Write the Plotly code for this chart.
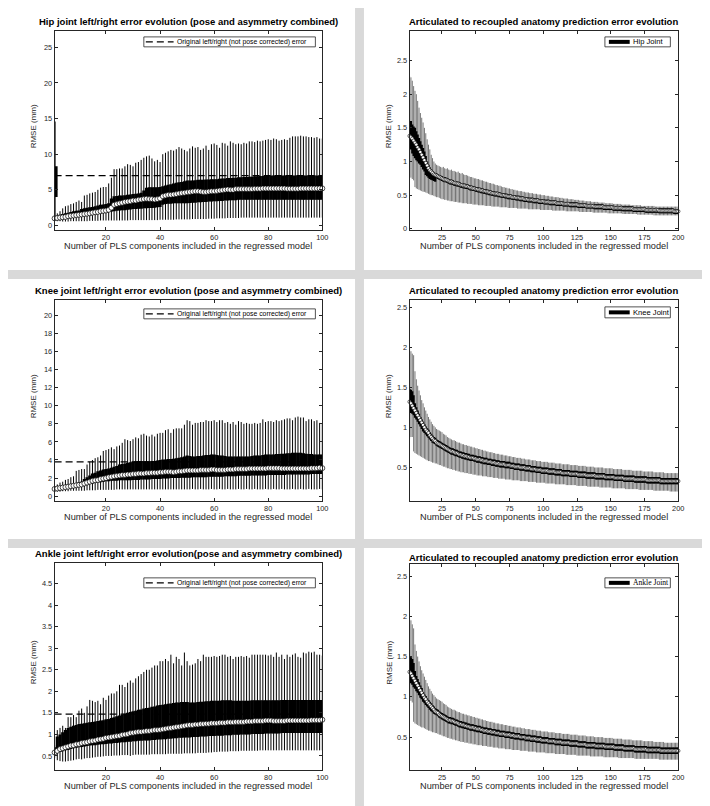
import plotly.graph_objects as go

# ---------------- DATA ----------------
comp100 = list(range(1, 101))
comp200 = list(range(1, 201))

# Hip (left/right asymmetry) boxplot stats per PLS component count
hipL_lo = [0.70,0.60,0.60,0.55,0.55,0.55,0.60,0.60,0.60,0.60,
0.60,0.60,0.60,0.65,0.65,0.65,0.65,0.70,0.70,0.70,
0.70,0.70,0.70,0.70,0.70,0.70,0.70,0.70,0.75,0.75,
0.75,0.75,0.75,0.75,0.75,0.75,0.75,0.75,0.75,0.80,
0.80,0.80,0.80,0.80,0.80,0.85,0.85,0.85,0.85,0.85,
0.85,0.90,0.90,0.90,0.90,0.90,0.90,0.95,0.95,0.95,
1.00,1.00,1.00,1.00,1.05,1.05,1.05,1.05,1.05,1.10,
1.10,1.10,1.10,1.10,1.10,1.10,1.10,1.10,1.10,1.10,
1.10,1.10,1.10,1.10,1.10,1.10,1.10,1.10,1.10,1.10,
1.10,1.10,1.10,1.10,1.10,1.10,1.10,1.10,1.10,1.10]
hipL_q1 = [0.80,0.85,0.90,0.95,1.00,1.05,1.10,1.15,1.20,1.25,
1.30,1.35,1.40,1.45,1.50,1.55,1.60,1.70,1.75,1.85,
1.90,1.95,2.00,2.05,2.10,2.15,2.15,2.20,2.25,2.30,
2.30,2.35,2.35,2.40,2.40,2.45,2.45,2.50,2.55,2.60,
2.90,3.00,3.05,3.05,3.10,3.10,3.10,3.10,3.10,3.10,
3.15,3.20,3.20,3.25,3.25,3.30,3.30,3.35,3.35,3.40,
3.40,3.45,3.45,3.50,3.50,3.55,3.55,3.55,3.60,3.60,
3.60,3.60,3.60,3.60,3.60,3.60,3.60,3.60,3.60,3.60,
3.60,3.60,3.60,3.60,3.60,3.60,3.60,3.60,3.60,3.60,
3.60,3.60,3.60,3.60,3.60,3.60,3.60,3.60,3.60,3.60]
hipL_med = [1.00,1.05,1.10,1.15,1.20,1.30,1.35,1.40,1.45,1.50,
1.55,1.60,1.65,1.70,1.80,1.85,1.90,2.00,2.05,2.10,
2.20,2.50,2.90,3.00,3.10,3.20,3.30,3.35,3.40,3.50,
3.50,3.60,3.65,3.70,3.75,3.70,3.70,3.65,3.70,3.80,
4.10,4.20,4.30,4.30,4.35,4.40,4.50,4.55,4.60,4.65,
4.70,4.75,4.80,4.80,4.75,4.70,4.70,4.75,4.80,4.80,
4.85,4.90,4.95,5.00,5.05,5.00,5.00,5.10,5.10,5.10,
5.10,5.10,5.10,5.10,5.15,5.15,5.15,5.20,5.20,5.20,
5.20,5.20,5.20,5.20,5.20,5.20,5.15,5.15,5.15,5.15,
5.15,5.20,5.20,5.20,5.20,5.20,5.20,5.20,5.20,5.20]
hipL_q3 = [1.20,1.35,1.50,1.60,1.70,1.80,1.90,2.00,2.05,2.10,
2.30,2.40,2.50,2.55,2.60,2.70,2.80,2.90,2.95,3.00,
3.10,3.80,4.10,4.15,4.20,4.20,4.25,4.30,4.35,4.40,
4.45,4.50,4.60,4.90,5.30,5.35,5.35,5.35,5.35,5.40,
5.50,5.60,5.70,5.80,5.90,6.00,6.05,6.10,6.20,6.30,
6.30,6.30,6.35,6.40,6.40,6.40,6.45,6.45,6.50,6.50,
6.50,6.55,6.60,6.60,6.65,6.65,6.70,6.70,6.75,6.75,
6.80,6.80,6.85,6.85,6.90,6.90,6.95,6.95,7.00,7.00,
7.00,7.00,7.00,7.00,7.00,7.00,7.00,7.00,7.00,7.00,
7.00,7.00,7.00,7.00,7.00,7.00,7.00,7.00,7.00,7.00]
hipL_hi = [1.30,1.70,2.00,2.40,2.70,2.80,3.00,3.10,3.30,3.50,
3.30,4.20,4.30,4.50,4.60,4.70,5.00,5.30,5.40,5.40,
5.90,6.70,7.90,7.90,8.00,8.00,8.30,8.60,8.50,8.30,
8.80,8.90,9.20,9.50,9.70,9.80,9.40,9.00,9.20,8.90,
10.00,10.20,10.40,10.60,10.50,10.70,11.00,10.80,10.60,10.40,
10.80,11.10,10.90,11.00,10.60,10.80,11.20,10.60,11.40,11.50,
11.30,10.90,11.60,11.50,11.20,11.80,11.60,11.40,11.50,11.40,
11.60,11.50,11.80,11.80,11.70,11.90,11.80,11.90,12.00,12.10,
12.00,12.20,12.10,11.90,12.00,12.10,12.00,12.30,12.50,12.50,
12.50,12.60,12.50,12.50,12.40,12.40,12.30,12.40,12.20,12.20]
hip_orig_median = 7.0
hip_orig_box = [0.9, 4.0, 8.3, 14.6]   # lo, q1, q3, hi

# Knee
kneeL_lo = [0.55,0.50,0.50,0.55,0.55,0.55,0.60,0.60,0.60,0.60,
0.60,0.60,0.65,0.65,0.65,0.65,0.70,0.70,0.70,0.70,
0.70,0.70,0.70,0.75,0.75,0.75,0.75,0.75,0.75,0.75,
0.75,0.75,0.75,0.75,0.75,0.75,0.75,0.75,0.75,0.75,
0.75,0.75,0.75,0.75,0.75,0.75,0.75,0.75,0.75,0.75,
0.75,0.80,0.75,0.75,0.80,0.75,0.75,0.75,0.80,0.75,
0.75,0.80,0.75,0.75,0.80,0.75,0.75,0.75,0.80,0.75,
0.75,0.80,0.75,0.75,0.80,0.75,0.75,0.75,0.80,0.75,
0.75,0.80,0.75,0.75,0.80,0.75,0.75,0.75,0.80,0.75,
0.75,0.80,0.75,0.75,0.80,0.75,0.75,0.75,0.80,0.75]
kneeL_q1 = [0.70,0.75,0.80,0.85,0.90,0.95,1.00,1.05,1.10,1.15,
1.20,1.25,1.30,1.35,1.40,1.45,1.50,1.55,1.60,1.65,
1.65,1.70,1.70,1.70,1.75,1.75,1.75,1.75,1.75,1.80,
1.80,1.80,1.85,1.85,1.85,1.85,1.90,1.90,1.90,1.90,
1.95,1.95,1.95,2.00,2.00,2.00,2.00,2.05,2.05,2.05,
2.05,2.10,2.10,2.10,2.10,2.10,2.10,2.15,2.15,2.15,
2.15,2.15,2.15,2.20,2.20,2.20,2.20,2.20,2.25,2.25,
2.25,2.25,2.25,2.30,2.30,2.30,2.30,2.30,2.30,2.35,
2.35,2.35,2.35,2.35,2.35,2.35,2.40,2.40,2.40,2.40,
2.40,2.40,2.40,2.40,2.40,2.45,2.45,2.45,2.45,2.45]
kneeL_med = [0.80,0.85,0.90,0.95,1.00,1.05,1.10,1.15,1.20,1.25,
1.30,1.40,1.50,1.60,1.70,1.75,1.80,1.90,1.95,2.00,
2.10,2.15,2.20,2.25,2.30,2.35,2.35,2.40,2.40,2.45,
2.45,2.50,2.50,2.50,2.55,2.55,2.60,2.60,2.60,2.65,
2.65,2.70,2.70,2.70,2.65,2.70,2.75,2.75,2.80,2.85,
2.85,2.85,2.85,2.85,2.90,2.90,2.90,2.90,2.95,2.95,
2.90,2.90,2.90,2.90,2.95,2.95,2.95,3.00,3.00,3.00,
3.00,3.00,3.05,3.05,3.05,3.05,3.05,3.05,3.05,3.10,
3.10,3.10,3.10,3.10,3.05,3.05,3.05,3.05,3.05,3.05,
3.05,3.05,3.05,3.05,3.05,3.10,3.10,3.10,3.15,3.10]
kneeL_q3 = [0.90,0.95,1.00,1.10,1.15,1.20,1.30,1.35,1.40,1.50,
1.60,1.90,2.10,2.30,2.50,2.60,2.75,2.85,2.95,3.00,
3.05,3.15,3.25,3.35,3.50,3.55,3.60,3.70,3.75,3.80,
3.85,3.90,3.90,3.85,3.85,3.85,3.90,3.90,3.95,4.00,
4.05,4.05,4.10,4.10,4.15,4.20,4.25,4.30,4.40,4.50,
4.45,4.40,4.40,4.45,4.45,4.50,4.55,4.55,4.60,4.60,
4.55,4.50,4.50,4.45,4.40,4.40,4.40,4.40,4.40,4.40,
4.40,4.40,4.40,4.45,4.50,4.50,4.50,4.55,4.60,4.60,
4.60,4.60,4.65,4.65,4.70,4.70,4.75,4.75,4.80,4.80,
4.80,4.80,4.75,4.70,4.65,4.65,4.60,4.60,4.60,4.60]
kneeL_hi = [1.00,1.30,1.50,1.60,1.80,1.90,2.10,2.20,2.80,2.90,
3.00,3.00,3.50,3.80,4.00,4.20,4.30,4.50,5.00,5.10,
5.20,5.40,5.20,5.50,5.60,5.90,6.30,6.20,6.10,6.30,
6.50,6.40,6.80,6.90,6.70,6.60,6.80,6.60,6.90,7.00,
7.00,7.30,7.40,7.00,7.40,7.50,7.50,7.50,7.90,8.40,
8.30,7.90,8.10,8.10,8.20,8.20,8.40,8.30,8.30,8.40,
8.20,8.40,8.40,8.10,8.20,8.00,8.20,7.90,8.30,8.20,
8.00,8.10,8.00,8.00,8.10,8.00,8.10,8.50,8.20,8.30,
8.30,8.20,8.40,8.30,8.40,8.50,8.60,8.60,8.40,8.70,
8.80,8.70,8.70,8.30,8.50,8.50,8.30,8.40,8.10,8.00]
knee_orig_median = 3.8

# Ankle
ankL_lo = [0.45,0.40,0.38,0.37,0.37,0.38,0.39,0.40,0.42,0.43,
0.42,0.44,0.45,0.45,0.46,0.47,0.48,0.48,0.49,0.50,
0.50,0.50,0.51,0.51,0.51,0.52,0.52,0.52,0.50,0.52,
0.53,0.53,0.53,0.53,0.53,0.53,0.54,0.54,0.54,0.54,
0.54,0.54,0.55,0.55,0.55,0.55,0.55,0.55,0.56,0.56,
0.56,0.56,0.56,0.57,0.57,0.57,0.57,0.58,0.58,0.59,
0.59,0.60,0.60,0.60,0.60,0.61,0.61,0.61,0.61,0.62,
0.62,0.62,0.62,0.62,0.62,0.62,0.63,0.63,0.63,0.63,
0.63,0.63,0.63,0.63,0.63,0.63,0.63,0.63,0.63,0.63,
0.63,0.63,0.63,0.63,0.63,0.63,0.63,0.63,0.63,0.63]
ankL_q1 = [0.55,0.57,0.59,0.61,0.63,0.64,0.66,0.68,0.69,0.70,
0.71,0.72,0.73,0.74,0.75,0.75,0.76,0.77,0.77,0.78,
0.79,0.79,0.80,0.80,0.81,0.82,0.82,0.83,0.83,0.84,
0.84,0.85,0.85,0.86,0.86,0.86,0.87,0.87,0.88,0.88,
0.89,0.89,0.90,0.90,0.91,0.91,0.92,0.92,0.93,0.93,
0.93,0.94,0.94,0.94,0.95,0.95,0.95,0.96,0.96,0.96,
0.97,0.97,0.97,0.98,0.98,0.98,0.99,0.99,0.99,1.00,
1.00,1.00,1.00,1.01,1.01,1.01,1.01,1.01,1.02,1.02,
1.02,1.02,1.02,1.02,1.03,1.03,1.03,1.03,1.03,1.03,
1.03,1.03,1.03,1.03,1.03,1.03,1.03,1.03,1.03,1.03]
ankL_med = [0.58,0.62,0.66,0.68,0.70,0.72,0.74,0.75,0.77,0.78,
0.80,0.81,0.82,0.84,0.85,0.86,0.88,0.89,0.90,0.92,
0.93,0.94,0.95,0.96,0.97,0.99,1.00,1.01,1.03,1.04,
1.05,1.06,1.06,1.07,1.08,1.08,1.09,1.10,1.10,1.11,
1.12,1.13,1.14,1.15,1.16,1.17,1.18,1.19,1.20,1.21,
1.22,1.22,1.23,1.23,1.24,1.24,1.25,1.25,1.26,1.26,
1.26,1.27,1.27,1.27,1.28,1.28,1.28,1.29,1.29,1.29,
1.29,1.30,1.30,1.30,1.31,1.31,1.31,1.31,1.32,1.32,
1.32,1.31,1.31,1.31,1.31,1.31,1.32,1.32,1.32,1.32,
1.32,1.32,1.32,1.32,1.32,1.33,1.33,1.33,1.33,1.34]
ankL_q3 = [0.70,0.95,1.00,1.05,1.10,1.15,1.18,1.20,1.22,1.24,
1.25,1.26,1.27,1.28,1.29,1.30,1.31,1.32,1.33,1.35,
1.36,1.38,1.40,1.42,1.44,1.46,1.48,1.50,1.52,1.54,
1.55,1.57,1.58,1.60,1.61,1.62,1.64,1.65,1.67,1.68,
1.69,1.70,1.71,1.72,1.73,1.74,1.74,1.75,1.75,1.75,
1.74,1.74,1.74,1.75,1.76,1.76,1.77,1.77,1.78,1.78,
1.78,1.78,1.79,1.79,1.79,1.79,1.78,1.78,1.78,1.78,
1.78,1.78,1.78,1.79,1.79,1.79,1.79,1.79,1.79,1.79,
1.79,1.79,1.79,1.79,1.80,1.80,1.80,1.80,1.80,1.80,
1.80,1.80,1.80,1.80,1.80,1.80,1.80,1.80,1.80,1.80]
ankL_hi = [0.75,1.10,1.15,1.20,1.15,1.40,1.40,1.45,1.40,1.55,
1.60,1.50,1.65,1.80,1.78,1.75,1.78,1.70,1.85,1.80,
1.90,1.95,1.95,2.00,2.15,2.15,2.10,2.20,2.25,2.20,
2.30,2.35,2.40,2.45,2.50,2.50,2.55,2.60,2.60,2.70,
2.70,2.75,2.70,2.85,2.65,2.80,2.75,2.60,2.90,2.70,
2.60,2.62,2.65,2.75,2.70,2.85,2.80,2.80,2.80,2.82,
2.80,2.82,2.85,2.85,2.80,2.82,2.75,2.80,2.80,2.82,
2.80,2.82,2.78,2.85,2.85,2.85,2.85,2.85,2.85,2.83,
2.85,2.80,2.90,2.80,2.85,2.75,2.85,2.80,2.85,2.88,
2.80,2.78,2.90,2.88,2.92,2.90,2.92,2.85,2.85,2.83]
ankle_orig_median = 1.47

# Articulated -> recoupled prediction error (200 components)
hipR_lo = [0.76,0.76,0.74,0.72,0.62,0.60,0.59,0.58,0.57,0.56,
0.55,0.55,0.54,0.53,0.52,0.51,0.50,0.50,0.49,0.48,
0.47,0.47,0.46,0.45,0.44,0.44,0.43,0.43,0.42,0.42,
0.41,0.41,0.41,0.40,0.40,0.40,0.39,0.39,0.39,0.38,
0.38,0.38,0.38,0.37,0.37,0.37,0.37,0.36,0.36,0.36,
0.36,0.35,0.35,0.35,0.35,0.35,0.34,0.34,0.34,0.34,
0.34,0.33,0.33,0.33,0.33,0.33,0.33,0.32,0.32,0.32,
0.32,0.32,0.32,0.31,0.31,0.31,0.31,0.31,0.31,0.31,
0.30,0.30,0.30,0.30,0.30,0.30,0.30,0.30,0.29,0.29,
0.29,0.29,0.29,0.29,0.29,0.29,0.29,0.28,0.28,0.28,
0.28,0.28,0.28,0.28,0.28,0.28,0.27,0.27,0.27,0.27,
0.27,0.27,0.27,0.27,0.27,0.27,0.26,0.26,0.26,0.26,
0.26,0.26,0.26,0.26,0.26,0.26,0.25,0.25,0.25,0.25,
0.25,0.25,0.25,0.25,0.25,0.25,0.24,0.24,0.24,0.24,
0.24,0.24,0.24,0.24,0.24,0.24,0.24,0.23,0.23,0.23,
0.23,0.23,0.23,0.23,0.23,0.23,0.23,0.23,0.22,0.22,
0.22,0.22,0.22,0.22,0.22,0.22,0.22,0.22,0.22,0.21,
0.21,0.21,0.21,0.21,0.21,0.21,0.21,0.21,0.21,0.21,
0.21,0.20,0.20,0.20,0.20,0.20,0.20,0.20,0.20,0.20,
0.20,0.20,0.20,0.20,0.20,0.20,0.20,0.20,0.20,0.20]
hipR_q1 = [1.20,1.18,1.12,1.08,1.05,1.02,1.00,0.97,0.95,0.92,
0.88,0.85,0.80,0.78,0.76,0.74,0.73,0.72,0.71,0.70,
0.75,0.74,0.73,0.72,0.71,0.70,0.69,0.69,0.68,0.67,
0.66,0.66,0.65,0.64,0.64,0.63,0.63,0.62,0.61,0.61,
0.60,0.60,0.59,0.59,0.58,0.57,0.57,0.56,0.56,0.55,
0.55,0.54,0.54,0.53,0.53,0.52,0.52,0.51,0.51,0.50,
0.50,0.49,0.49,0.48,0.48,0.48,0.47,0.47,0.46,0.46,
0.46,0.45,0.45,0.44,0.44,0.44,0.43,0.43,0.43,0.42,
0.42,0.42,0.41,0.41,0.41,0.40,0.40,0.40,0.39,0.39,
0.39,0.39,0.38,0.38,0.38,0.38,0.37,0.37,0.37,0.37,
0.36,0.36,0.36,0.36,0.35,0.35,0.35,0.35,0.35,0.34,
0.34,0.34,0.34,0.34,0.33,0.33,0.33,0.33,0.33,0.32,
0.32,0.32,0.32,0.32,0.32,0.31,0.31,0.31,0.31,0.31,
0.31,0.30,0.30,0.30,0.30,0.30,0.30,0.29,0.29,0.29,
0.29,0.29,0.29,0.29,0.28,0.28,0.28,0.28,0.28,0.28,
0.28,0.27,0.27,0.27,0.27,0.27,0.27,0.27,0.26,0.26,
0.26,0.26,0.26,0.26,0.26,0.26,0.25,0.25,0.25,0.25,
0.25,0.25,0.25,0.25,0.25,0.24,0.24,0.24,0.24,0.24,
0.24,0.24,0.24,0.24,0.24,0.23,0.23,0.23,0.23,0.23,
0.23,0.23,0.23,0.23,0.23,0.23,0.22,0.22,0.22,0.22]
hipR_med = [1.38,1.36,1.34,1.31,1.28,1.25,1.21,1.18,1.14,1.10,
1.06,1.02,0.98,0.94,0.90,0.87,0.85,0.83,0.81,0.80,
0.79,0.78,0.77,0.76,0.75,0.74,0.73,0.73,0.72,0.71,
0.70,0.70,0.69,0.68,0.68,0.67,0.67,0.66,0.65,0.65,
0.64,0.64,0.63,0.63,0.62,0.61,0.61,0.60,0.60,0.59,
0.59,0.58,0.58,0.57,0.57,0.56,0.56,0.55,0.55,0.54,
0.54,0.53,0.53,0.52,0.52,0.52,0.51,0.51,0.50,0.50,
0.50,0.49,0.49,0.48,0.48,0.48,0.47,0.47,0.47,0.46,
0.46,0.46,0.45,0.45,0.45,0.44,0.44,0.44,0.43,0.43,
0.43,0.43,0.42,0.42,0.42,0.42,0.41,0.41,0.41,0.41,
0.40,0.40,0.40,0.40,0.39,0.39,0.39,0.39,0.39,0.38,
0.38,0.38,0.38,0.38,0.37,0.37,0.37,0.37,0.37,0.36,
0.36,0.36,0.36,0.36,0.36,0.35,0.35,0.35,0.35,0.35,
0.35,0.34,0.34,0.34,0.34,0.34,0.34,0.33,0.33,0.33,
0.33,0.33,0.33,0.33,0.32,0.32,0.32,0.32,0.32,0.32,
0.32,0.31,0.31,0.31,0.31,0.31,0.31,0.31,0.30,0.30,
0.30,0.30,0.30,0.30,0.30,0.30,0.29,0.29,0.29,0.29,
0.29,0.29,0.29,0.29,0.29,0.28,0.28,0.28,0.28,0.28,
0.28,0.28,0.28,0.28,0.28,0.27,0.27,0.27,0.27,0.27,
0.27,0.27,0.27,0.27,0.27,0.27,0.26,0.26,0.26,0.26]
hipR_q3 = [1.60,1.60,1.55,1.52,1.50,1.45,1.40,1.35,1.30,1.25,
1.20,1.15,1.08,1.00,0.95,0.91,0.88,0.86,0.84,0.83,
0.82,0.81,0.80,0.79,0.78,0.77,0.77,0.76,0.75,0.74,
0.73,0.73,0.72,0.71,0.71,0.70,0.70,0.69,0.68,0.68,
0.67,0.67,0.66,0.66,0.65,0.64,0.64,0.63,0.63,0.62,
0.62,0.61,0.61,0.60,0.60,0.59,0.59,0.58,0.58,0.57,
0.57,0.56,0.56,0.55,0.55,0.55,0.54,0.54,0.53,0.53,
0.53,0.52,0.52,0.51,0.51,0.51,0.50,0.50,0.50,0.49,
0.49,0.49,0.48,0.48,0.48,0.47,0.47,0.47,0.46,0.46,
0.46,0.46,0.45,0.45,0.45,0.45,0.44,0.44,0.44,0.44,
0.43,0.43,0.43,0.43,0.42,0.42,0.42,0.42,0.42,0.41,
0.41,0.41,0.41,0.41,0.40,0.40,0.40,0.40,0.40,0.39,
0.39,0.39,0.39,0.39,0.39,0.38,0.38,0.38,0.38,0.38,
0.38,0.37,0.37,0.37,0.37,0.37,0.37,0.36,0.36,0.36,
0.36,0.36,0.36,0.36,0.35,0.35,0.35,0.35,0.35,0.35,
0.35,0.34,0.34,0.34,0.34,0.34,0.34,0.34,0.33,0.33,
0.33,0.33,0.33,0.33,0.33,0.33,0.32,0.32,0.32,0.32,
0.32,0.32,0.32,0.32,0.32,0.31,0.31,0.31,0.31,0.31,
0.31,0.31,0.31,0.31,0.31,0.30,0.30,0.30,0.30,0.30,
0.30,0.30,0.30,0.30,0.30,0.30,0.29,0.29,0.29,0.29]
hipR_hi = [2.27,2.25,2.20,2.12,2.05,2.00,1.90,1.80,1.72,1.65,
1.58,1.50,1.42,1.33,1.25,1.18,1.10,1.05,1.00,0.97,
0.95,0.94,0.93,0.92,0.91,0.92,0.90,0.89,0.90,0.88,
0.87,0.88,0.86,0.86,0.85,0.84,0.85,0.83,0.82,0.83,
0.81,0.80,0.80,0.79,0.78,0.77,0.77,0.76,0.75,0.75,
0.74,0.74,0.73,0.72,0.72,0.71,0.70,0.70,0.69,0.68,
0.68,0.67,0.67,0.66,0.65,0.65,0.64,0.64,0.63,0.62,
0.62,0.61,0.61,0.60,0.60,0.59,0.59,0.58,0.58,0.57,
0.57,0.56,0.56,0.56,0.55,0.55,0.54,0.54,0.54,0.53,
0.53,0.53,0.52,0.52,0.52,0.51,0.51,0.51,0.50,0.50,
0.50,0.49,0.49,0.49,0.48,0.48,0.48,0.47,0.47,0.47,
0.47,0.46,0.46,0.46,0.45,0.45,0.45,0.45,0.44,0.44,
0.44,0.44,0.43,0.43,0.43,0.43,0.42,0.42,0.42,0.42,
0.41,0.41,0.41,0.41,0.41,0.40,0.40,0.40,0.40,0.40,
0.39,0.39,0.39,0.39,0.39,0.38,0.38,0.38,0.38,0.38,
0.38,0.37,0.37,0.37,0.37,0.37,0.37,0.36,0.36,0.36,
0.36,0.36,0.36,0.36,0.35,0.35,0.35,0.35,0.35,0.35,
0.35,0.35,0.34,0.34,0.34,0.34,0.34,0.34,0.34,0.34,
0.34,0.34,0.33,0.33,0.33,0.33,0.33,0.33,0.33,0.33,
0.33,0.33,0.33,0.33,0.33,0.33,0.33,0.33,0.33,0.33]

kneeR_lo = [0.86,0.88,0.88,0.70,0.68,0.67,0.66,0.65,0.64,0.63,
0.62,0.61,0.60,0.59,0.58,0.58,0.57,0.56,0.56,0.55,
0.55,0.54,0.53,0.53,0.52,0.51,0.51,0.50,0.49,0.49,
0.48,0.48,0.47,0.47,0.46,0.46,0.45,0.45,0.44,0.44,
0.44,0.43,0.43,0.43,0.42,0.42,0.42,0.41,0.41,0.41,
0.40,0.40,0.40,0.40,0.39,0.39,0.39,0.39,0.38,0.38,
0.38,0.38,0.37,0.37,0.37,0.37,0.36,0.36,0.36,0.36,
0.36,0.35,0.35,0.35,0.35,0.35,0.34,0.34,0.34,0.34,
0.34,0.34,0.33,0.33,0.33,0.33,0.33,0.33,0.32,0.32,
0.32,0.32,0.32,0.32,0.31,0.31,0.31,0.31,0.31,0.31,
0.31,0.30,0.30,0.30,0.30,0.30,0.30,0.30,0.29,0.29,
0.29,0.29,0.29,0.29,0.29,0.29,0.28,0.28,0.28,0.28,
0.28,0.28,0.28,0.28,0.27,0.27,0.27,0.27,0.27,0.27,
0.27,0.27,0.26,0.26,0.26,0.26,0.26,0.26,0.26,0.26,
0.26,0.25,0.25,0.25,0.25,0.25,0.25,0.25,0.25,0.25,
0.24,0.24,0.24,0.24,0.24,0.24,0.24,0.24,0.24,0.24,
0.23,0.23,0.23,0.23,0.23,0.23,0.23,0.23,0.23,0.23,
0.22,0.22,0.22,0.22,0.22,0.22,0.22,0.22,0.22,0.22,
0.22,0.21,0.21,0.21,0.21,0.21,0.21,0.21,0.21,0.21,
0.21,0.21,0.21,0.20,0.20,0.20,0.20,0.20,0.20,0.20]
kneeR_q1 = [1.20,1.18,1.17,1.15,1.12,1.10,1.07,1.04,1.01,0.98,
0.95,0.93,0.91,0.89,0.87,0.85,0.83,0.81,0.80,0.79,
0.77,0.76,0.75,0.74,0.73,0.72,0.71,0.70,0.69,0.68,
0.67,0.66,0.66,0.65,0.64,0.64,0.63,0.62,0.62,0.61,
0.61,0.60,0.60,0.59,0.59,0.58,0.58,0.58,0.57,0.57,
0.56,0.56,0.56,0.55,0.55,0.54,0.54,0.54,0.53,0.53,
0.53,0.52,0.52,0.52,0.51,0.51,0.51,0.50,0.50,0.50,
0.50,0.49,0.49,0.49,0.49,0.48,0.48,0.48,0.47,0.47,
0.47,0.47,0.46,0.46,0.46,0.46,0.45,0.45,0.45,0.45,
0.44,0.44,0.44,0.44,0.43,0.43,0.43,0.43,0.42,0.42,
0.42,0.42,0.42,0.41,0.41,0.41,0.41,0.41,0.40,0.40,
0.40,0.40,0.40,0.39,0.39,0.39,0.39,0.39,0.39,0.38,
0.38,0.38,0.38,0.38,0.38,0.37,0.37,0.37,0.37,0.37,
0.37,0.36,0.36,0.36,0.36,0.36,0.36,0.36,0.35,0.35,
0.35,0.35,0.35,0.35,0.35,0.34,0.34,0.34,0.34,0.34,
0.34,0.34,0.33,0.33,0.33,0.33,0.33,0.33,0.33,0.32,
0.32,0.32,0.32,0.32,0.32,0.32,0.32,0.31,0.31,0.31,
0.31,0.31,0.31,0.31,0.31,0.31,0.30,0.30,0.30,0.30,
0.30,0.30,0.30,0.30,0.30,0.30,0.29,0.29,0.29,0.29,
0.29,0.29,0.29,0.29,0.29,0.29,0.29,0.29,0.29,0.29]
kneeR_med = [1.32,1.30,1.27,1.24,1.21,1.18,1.15,1.12,1.09,1.06,
1.03,1.00,0.97,0.95,0.93,0.90,0.88,0.86,0.84,0.83,
0.81,0.80,0.79,0.78,0.77,0.76,0.75,0.74,0.73,0.72,
0.71,0.70,0.70,0.69,0.68,0.68,0.67,0.66,0.66,0.65,
0.65,0.64,0.64,0.63,0.63,0.62,0.62,0.62,0.61,0.61,
0.60,0.60,0.60,0.59,0.59,0.58,0.58,0.58,0.57,0.57,
0.57,0.56,0.56,0.56,0.55,0.55,0.55,0.54,0.54,0.54,
0.54,0.53,0.53,0.53,0.53,0.52,0.52,0.52,0.51,0.51,
0.51,0.51,0.50,0.50,0.50,0.50,0.49,0.49,0.49,0.49,
0.48,0.48,0.48,0.48,0.47,0.47,0.47,0.47,0.46,0.46,
0.46,0.46,0.46,0.45,0.45,0.45,0.45,0.45,0.44,0.44,
0.44,0.44,0.44,0.43,0.43,0.43,0.43,0.43,0.43,0.42,
0.42,0.42,0.42,0.42,0.42,0.41,0.41,0.41,0.41,0.41,
0.41,0.40,0.40,0.40,0.40,0.40,0.40,0.40,0.39,0.39,
0.39,0.39,0.39,0.39,0.39,0.38,0.38,0.38,0.38,0.38,
0.38,0.38,0.37,0.37,0.37,0.37,0.37,0.37,0.37,0.36,
0.36,0.36,0.36,0.36,0.36,0.36,0.36,0.35,0.35,0.35,
0.35,0.35,0.35,0.35,0.35,0.35,0.34,0.34,0.34,0.34,
0.34,0.34,0.34,0.34,0.34,0.34,0.33,0.33,0.33,0.33,
0.33,0.33,0.33,0.33,0.33,0.33,0.33,0.33,0.33,0.33]
kneeR_q3 = [1.48,1.47,1.45,1.40,1.30,1.25,1.21,1.17,1.13,1.10,
1.07,1.04,1.01,0.99,0.97,0.94,0.92,0.90,0.88,0.87,
0.85,0.84,0.83,0.82,0.81,0.80,0.79,0.78,0.77,0.76,
0.75,0.74,0.74,0.73,0.72,0.72,0.71,0.70,0.70,0.69,
0.69,0.68,0.68,0.67,0.67,0.66,0.66,0.66,0.65,0.65,
0.64,0.64,0.64,0.63,0.63,0.62,0.62,0.62,0.61,0.61,
0.61,0.60,0.60,0.60,0.59,0.59,0.59,0.58,0.58,0.58,
0.58,0.57,0.57,0.57,0.57,0.56,0.56,0.56,0.55,0.55,
0.55,0.55,0.54,0.54,0.54,0.54,0.53,0.53,0.53,0.53,
0.52,0.52,0.52,0.52,0.51,0.51,0.51,0.51,0.50,0.50,
0.50,0.50,0.50,0.49,0.49,0.49,0.49,0.49,0.48,0.48,
0.48,0.48,0.48,0.47,0.47,0.47,0.47,0.47,0.47,0.46,
0.46,0.46,0.46,0.46,0.46,0.45,0.45,0.45,0.45,0.45,
0.45,0.44,0.44,0.44,0.44,0.44,0.44,0.44,0.43,0.43,
0.43,0.43,0.43,0.43,0.43,0.42,0.42,0.42,0.42,0.42,
0.42,0.42,0.41,0.41,0.41,0.41,0.41,0.41,0.41,0.40,
0.40,0.40,0.40,0.40,0.40,0.40,0.40,0.39,0.39,0.39,
0.39,0.39,0.39,0.39,0.39,0.39,0.38,0.38,0.38,0.38,
0.38,0.38,0.38,0.38,0.38,0.38,0.37,0.37,0.37,0.37,
0.37,0.37,0.37,0.37,0.37,0.37,0.37,0.37,0.37,0.37]
kneeR_hi = [1.98,1.95,1.92,1.90,1.70,1.60,1.52,1.46,1.40,1.34,
1.30,1.25,1.21,1.17,1.13,1.10,1.07,1.04,1.02,1.00,
0.98,0.97,0.96,0.95,0.94,0.92,0.91,0.90,0.88,0.87,
0.86,0.85,0.84,0.84,0.83,0.82,0.81,0.81,0.80,0.79,
0.79,0.78,0.78,0.77,0.77,0.76,0.76,0.75,0.75,0.74,
0.74,0.73,0.73,0.72,0.72,0.71,0.71,0.70,0.70,0.69,
0.69,0.69,0.68,0.68,0.67,0.67,0.67,0.66,0.66,0.66,
0.65,0.65,0.65,0.64,0.64,0.64,0.63,0.63,0.63,0.62,
0.62,0.62,0.62,0.61,0.61,0.61,0.60,0.60,0.60,0.60,
0.59,0.59,0.59,0.59,0.58,0.58,0.58,0.58,0.57,0.57,
0.57,0.57,0.57,0.56,0.56,0.56,0.56,0.56,0.55,0.55,
0.55,0.55,0.55,0.54,0.54,0.54,0.54,0.54,0.54,0.53,
0.53,0.53,0.53,0.53,0.53,0.52,0.52,0.52,0.52,0.52,
0.52,0.51,0.51,0.51,0.51,0.51,0.51,0.50,0.50,0.50,
0.50,0.50,0.50,0.50,0.49,0.49,0.49,0.49,0.49,0.49,
0.49,0.48,0.48,0.48,0.48,0.48,0.48,0.48,0.47,0.47,
0.47,0.47,0.47,0.47,0.47,0.46,0.46,0.46,0.46,0.46,
0.46,0.46,0.46,0.45,0.45,0.45,0.45,0.45,0.45,0.45,
0.45,0.44,0.44,0.44,0.44,0.44,0.44,0.44,0.44,0.43,
0.43,0.43,0.43,0.43,0.43,0.43,0.43,0.43,0.43,0.43]

ankR_lo = [0.97,0.95,0.93,0.69,0.67,0.66,0.65,0.64,0.63,0.62,
0.62,0.61,0.60,0.59,0.58,0.58,0.57,0.56,0.56,0.55,
0.55,0.54,0.53,0.53,0.52,0.51,0.51,0.50,0.49,0.49,
0.48,0.48,0.47,0.47,0.46,0.46,0.45,0.45,0.44,0.44,
0.44,0.43,0.43,0.43,0.42,0.42,0.42,0.41,0.41,0.41,
0.40,0.40,0.40,0.40,0.39,0.39,0.39,0.39,0.38,0.38,
0.38,0.38,0.37,0.37,0.37,0.37,0.36,0.36,0.36,0.36,
0.36,0.35,0.35,0.35,0.35,0.35,0.34,0.34,0.34,0.34,
0.34,0.34,0.33,0.33,0.33,0.33,0.33,0.33,0.32,0.32,
0.32,0.32,0.32,0.32,0.31,0.31,0.31,0.31,0.31,0.31,
0.31,0.30,0.30,0.30,0.30,0.30,0.30,0.30,0.29,0.29,
0.29,0.29,0.29,0.29,0.29,0.29,0.28,0.28,0.28,0.28,
0.28,0.28,0.28,0.28,0.27,0.27,0.27,0.27,0.27,0.27,
0.27,0.27,0.27,0.27,0.26,0.26,0.26,0.26,0.26,0.26,
0.26,0.26,0.26,0.26,0.25,0.25,0.25,0.25,0.25,0.25,
0.25,0.25,0.25,0.25,0.25,0.24,0.24,0.24,0.24,0.24,
0.24,0.24,0.24,0.24,0.24,0.24,0.24,0.23,0.23,0.23,
0.23,0.23,0.23,0.23,0.23,0.23,0.23,0.23,0.23,0.23,
0.23,0.23,0.23,0.23,0.23,0.22,0.22,0.22,0.22,0.22,
0.22,0.22,0.22,0.22,0.22,0.22,0.22,0.22,0.22,0.22]
ankR_q1 = [1.18,1.17,1.15,1.12,1.10,1.07,1.05,1.02,0.99,0.97,
0.94,0.92,0.90,0.88,0.86,0.84,0.82,0.81,0.79,0.78,
0.77,0.76,0.74,0.73,0.72,0.71,0.70,0.69,0.68,0.67,
0.67,0.66,0.66,0.65,0.64,0.64,0.63,0.62,0.62,0.61,
0.61,0.60,0.60,0.59,0.59,0.58,0.58,0.58,0.57,0.57,
0.56,0.56,0.56,0.55,0.55,0.54,0.54,0.54,0.53,0.53,
0.53,0.52,0.52,0.52,0.51,0.51,0.51,0.50,0.50,0.50,
0.50,0.49,0.49,0.49,0.49,0.48,0.48,0.48,0.47,0.47,
0.47,0.47,0.46,0.46,0.46,0.46,0.45,0.45,0.45,0.45,
0.44,0.44,0.44,0.44,0.43,0.43,0.43,0.43,0.42,0.42,
0.42,0.42,0.42,0.41,0.41,0.41,0.41,0.41,0.40,0.40,
0.40,0.40,0.40,0.39,0.39,0.39,0.39,0.39,0.39,0.38,
0.38,0.38,0.38,0.38,0.38,0.37,0.37,0.37,0.37,0.37,
0.37,0.36,0.36,0.36,0.36,0.36,0.36,0.36,0.35,0.35,
0.35,0.35,0.35,0.35,0.35,0.34,0.34,0.34,0.34,0.34,
0.34,0.34,0.33,0.33,0.33,0.33,0.33,0.33,0.33,0.32,
0.32,0.32,0.32,0.32,0.32,0.32,0.32,0.31,0.31,0.31,
0.31,0.31,0.31,0.31,0.31,0.31,0.30,0.30,0.30,0.30,
0.30,0.30,0.30,0.30,0.30,0.30,0.29,0.29,0.29,0.29,
0.29,0.29,0.29,0.29,0.29,0.29,0.29,0.29,0.29,0.29]
ankR_med = [1.31,1.29,1.26,1.23,1.20,1.17,1.14,1.11,1.08,1.05,
1.02,0.99,0.97,0.94,0.92,0.90,0.88,0.86,0.84,0.82,
0.81,0.80,0.78,0.77,0.76,0.75,0.74,0.73,0.72,0.71,
0.71,0.70,0.70,0.69,0.68,0.68,0.67,0.66,0.66,0.65,
0.65,0.64,0.64,0.63,0.63,0.62,0.62,0.62,0.61,0.61,
0.60,0.60,0.60,0.59,0.59,0.58,0.58,0.58,0.57,0.57,
0.57,0.56,0.56,0.56,0.55,0.55,0.55,0.54,0.54,0.54,
0.54,0.53,0.53,0.53,0.53,0.52,0.52,0.52,0.51,0.51,
0.51,0.51,0.50,0.50,0.50,0.50,0.49,0.49,0.49,0.49,
0.48,0.48,0.48,0.48,0.47,0.47,0.47,0.47,0.46,0.46,
0.46,0.46,0.46,0.45,0.45,0.45,0.45,0.45,0.44,0.44,
0.44,0.44,0.44,0.43,0.43,0.43,0.43,0.43,0.43,0.42,
0.42,0.42,0.42,0.42,0.42,0.41,0.41,0.41,0.41,0.41,
0.41,0.40,0.40,0.40,0.40,0.40,0.40,0.40,0.39,0.39,
0.39,0.39,0.39,0.39,0.39,0.38,0.38,0.38,0.38,0.38,
0.38,0.38,0.37,0.37,0.37,0.37,0.37,0.37,0.37,0.36,
0.36,0.36,0.36,0.36,0.36,0.36,0.36,0.35,0.35,0.35,
0.35,0.35,0.35,0.35,0.35,0.35,0.34,0.34,0.34,0.34,
0.34,0.34,0.34,0.34,0.34,0.34,0.33,0.33,0.33,0.33,
0.33,0.33,0.33,0.33,0.33,0.33,0.33,0.33,0.33,0.33]
ankR_q3 = [1.50,1.49,1.47,1.42,1.32,1.26,1.22,1.18,1.14,1.11,
1.06,1.03,1.01,0.98,0.96,0.94,0.92,0.90,0.88,0.86,
0.85,0.84,0.82,0.81,0.80,0.79,0.78,0.77,0.76,0.75,
0.75,0.74,0.74,0.73,0.72,0.72,0.71,0.70,0.70,0.69,
0.69,0.68,0.68,0.67,0.67,0.66,0.66,0.66,0.65,0.65,
0.64,0.64,0.64,0.63,0.63,0.62,0.62,0.62,0.61,0.61,
0.61,0.60,0.60,0.60,0.59,0.59,0.59,0.58,0.58,0.58,
0.58,0.57,0.57,0.57,0.57,0.56,0.56,0.56,0.55,0.55,
0.55,0.55,0.54,0.54,0.54,0.54,0.53,0.53,0.53,0.53,
0.52,0.52,0.52,0.52,0.51,0.51,0.51,0.51,0.50,0.50,
0.50,0.50,0.50,0.49,0.49,0.49,0.49,0.49,0.48,0.48,
0.48,0.48,0.48,0.47,0.47,0.47,0.47,0.47,0.47,0.46,
0.46,0.46,0.46,0.46,0.46,0.45,0.45,0.45,0.45,0.45,
0.45,0.44,0.44,0.44,0.44,0.44,0.44,0.44,0.43,0.43,
0.43,0.43,0.43,0.43,0.43,0.42,0.42,0.42,0.42,0.42,
0.42,0.42,0.41,0.41,0.41,0.41,0.41,0.41,0.41,0.40,
0.40,0.40,0.40,0.40,0.40,0.40,0.40,0.39,0.39,0.39,
0.39,0.39,0.39,0.39,0.39,0.39,0.38,0.38,0.38,0.38,
0.38,0.38,0.38,0.38,0.38,0.38,0.37,0.37,0.37,0.37,
0.37,0.37,0.37,0.37,0.37,0.37,0.37,0.37,0.37,0.37]
ankR_hi = [1.97,1.95,1.90,1.85,1.65,1.57,1.50,1.44,1.38,1.33,
1.29,1.25,1.21,1.17,1.13,1.10,1.07,1.04,1.02,1.00,
0.98,0.97,0.96,0.95,0.94,0.92,0.91,0.90,0.88,0.87,
0.86,0.85,0.84,0.84,0.83,0.82,0.81,0.81,0.80,0.79,
0.79,0.78,0.78,0.77,0.77,0.76,0.76,0.75,0.75,0.74,
0.74,0.73,0.73,0.72,0.72,0.71,0.71,0.70,0.70,0.69,
0.69,0.69,0.68,0.68,0.67,0.67,0.67,0.66,0.66,0.66,
0.65,0.65,0.65,0.64,0.64,0.64,0.63,0.63,0.63,0.62,
0.62,0.62,0.62,0.61,0.61,0.61,0.60,0.60,0.60,0.60,
0.59,0.59,0.59,0.59,0.58,0.58,0.58,0.58,0.57,0.57,
0.57,0.57,0.57,0.56,0.56,0.56,0.56,0.56,0.55,0.55,
0.55,0.55,0.55,0.54,0.54,0.54,0.54,0.54,0.54,0.53,
0.53,0.53,0.53,0.53,0.53,0.52,0.52,0.52,0.52,0.52,
0.52,0.51,0.51,0.51,0.51,0.51,0.51,0.50,0.50,0.50,
0.50,0.50,0.50,0.50,0.49,0.49,0.49,0.49,0.49,0.49,
0.49,0.48,0.48,0.48,0.48,0.48,0.48,0.48,0.47,0.47,
0.47,0.47,0.47,0.47,0.47,0.46,0.46,0.46,0.46,0.46,
0.46,0.46,0.46,0.45,0.45,0.45,0.45,0.45,0.45,0.45,
0.45,0.44,0.44,0.44,0.44,0.44,0.44,0.44,0.44,0.43,
0.43,0.43,0.43,0.43,0.43,0.43,0.43,0.43,0.43,0.43]

# Tick labels
ticks_hipL = [0, 5, 10, 15, 20, 25]
ticks_kneeL = [0, 2, 4, 6, 8, 10, 12, 14, 16, 18, 20]
ticks_ankL = [0.5, 1, 1.5, 2, 2.5, 3, 3.5, 4, 4.5]
ticks_hipR = [0, 0.5, 1, 1.5, 2, 2.5]
ticks_kR = [0.5, 1, 1.5, 2, 2.5]
xticks_L = [20, 40, 60, 80, 100]
xticks_R = [25, 50, 75, 100, 125, 150, 175, 200]

titles = ["Hip joint left/right error evolution (pose and asymmetry combined)",
          "Articulated to recoupled anatomy prediction error evolution",
          "Knee joint left/right error evolution (pose and asymmetry combined)",
          "Articulated to recoupled anatomy prediction error evolution",
          "Ankle joint left/right error evolution(pose and asymmetry combined)",
          "Articulated to recoupled anatomy prediction error evolution"]
xlabel = "Number of PLS components included in the regressed model"
ylabel = "RMSE (mm)"
orig_label = "Original left/right (not pose corrected) error"
joint_labels = ["Hip Joint", "Knee Joint", "Ankle Joint"]

for arr in [hipL_lo, hipL_q1, hipL_med, hipL_q3, hipL_hi, kneeL_lo, kneeL_q1, kneeL_med, kneeL_q3, kneeL_hi,
            ankL_lo, ankL_q1, ankL_med, ankL_q3, ankL_hi]:
    assert len(arr) == 100, len(arr)
for arr in [hipR_lo, hipR_q1, hipR_med, hipR_q3, hipR_hi, kneeR_lo, kneeR_q1, kneeR_med, kneeR_q3, kneeR_hi,
            ankR_lo, ankR_q1, ankR_med, ankR_q3, ankR_hi]:
    assert len(arr) == 200, len(arr)

# ---------------- LAYOUT GEOMETRY (pixels) ----------------
W, H = 710, 806
FONT = "Liberation Sans"
AX = '#262626'

def fx(p):
    return p / W

def fy(p):
    return 1 - p / H

panels = [
    dict(box=(47, 317, 23, 223), yr=[-0.66, 27.3], xr=[1, 100], yt=ticks_hipL, xt=xticks_L),
    dict(box=(405, 676, 23, 223), yr=[-0.02, 2.94], xr=[1, 200], yt=ticks_hipR, xt=xticks_R),
    dict(box=(47, 317, 293, 495), yr=[-0.55, 21.7], xr=[1, 100], yt=ticks_kneeL, xt=xticks_L),
    dict(box=(405, 676, 293, 495), yr=[0.08, 2.59], xr=[1, 200], yt=ticks_kR, xt=xticks_R),
    dict(box=(47, 317, 557, 765), yr=[0.17, 4.98], xr=[1, 100], yt=ticks_ankL, xt=xticks_L),
    dict(box=(405, 676, 558, 765), yr=[0.09, 2.65], xr=[1, 200], yt=ticks_kR, xt=xticks_R),
]

fig = go.Figure()

def axnames(i):
    return ('x', 'y') if i == 1 else (f'x{i}', f'y{i}')

def add_segments(i, comp, lo, hi, color, width):
    xa, ya = axnames(i)
    xs, ys = [], []
    for c, a, b in zip(comp, lo, hi):
        xs += [c, c, None]
        ys += [a, b, None]
    fig.add_trace(go.Scatter(x=xs, y=ys, mode='lines', line=dict(color=color, width=width),
                             xaxis=xa, yaxis=ya, showlegend=False, hoverinfo='skip'))

def add_medians(i, comp, med, size, lw):
    xa, ya = axnames(i)
    fig.add_trace(go.Scatter(x=comp, y=med, mode='markers', cliponaxis=False,
                             marker=dict(symbol='circle', size=size, color='white',
                                         line=dict(color='black', width=lw)),
                             xaxis=xa, yaxis=ya, showlegend=False, hoverinfo='skip'))

def add_ref(i, comp, val):
    xa, ya = axnames(i)
    fig.add_trace(go.Scatter(x=[comp[0], comp[-1]], y=[val, val], mode='lines',
                             line=dict(color='black', width=1.3, dash='7px,4px'),
                             name=orig_label, showlegend=False, xaxis=xa, yaxis=ya, hoverinfo='skip'))

left_sets = [(1, hipL_lo, hipL_q1, hipL_med, hipL_q3, hipL_hi, hip_orig_median),
             (3, kneeL_lo, kneeL_q1, kneeL_med, kneeL_q3, kneeL_hi, knee_orig_median),
             (5, ankL_lo, ankL_q1, ankL_med, ankL_q3, ankL_hi, ankle_orig_median)]
for i, lo, q1, med, q3, hi, ref in left_sets:
    add_ref(i, comp100, ref)
    if i == 1:
        add_segments(i, comp100[:1], hip_orig_box[:1], hip_orig_box[3:], 'black', 2)
        add_segments(i, comp100[:1], hip_orig_box[1:2], hip_orig_box[2:3], 'black', 6)
    add_segments(i, comp100, lo, hi, 'black', 1)
    add_segments(i, comp100, q1, q3, 'black', 3.2)
    add_medians(i, comp100, med, 5, 0.7)

right_sets = [(2, hipR_lo, hipR_q1, hipR_med, hipR_q3, hipR_hi),
              (4, kneeR_lo, kneeR_q1, kneeR_med, kneeR_q3, kneeR_hi),
              (6, ankR_lo, ankR_q1, ankR_med, ankR_q3, ankR_hi)]
for i, lo, q1, med, q3, hi in right_sets:
    add_segments(i, comp200, lo, hi, '#757575', 1)
    add_segments(i, comp200, q1, q3, 'black', 2.2)
    add_medians(i, comp200, med, 3.4, 0.6)

layout = dict(width=W, height=H, margin=dict(l=0, r=0, t=0, b=0),
              paper_bgcolor='white', plot_bgcolor='white', showlegend=False,
              font=dict(family=FONT, color=AX))

annotations = []
shapes = [
    dict(type='rect', xref='paper', yref='paper', x0=fx(350), x1=fx(359), y0=0, y1=1,
         fillcolor='#d9d9d9', line=dict(width=0), layer='below'),
    dict(type='rect', xref='paper', yref='paper', x0=0, x1=1, y0=fy(272), y1=fy(263),
         fillcolor='#d9d9d9', line=dict(width=0), layer='below'),
    dict(type='rect', xref='paper', yref='paper', x0=0, x1=1, y0=fy(542), y1=fy(533),
         fillcolor='#d9d9d9', line=dict(width=0), layer='below'),
]
for k, p in enumerate(panels):
    i = k + 1
    l, r, t, b = p['box']
    xs = 'xaxis' if i == 1 else f'xaxis{i}'
    ys = 'yaxis' if i == 1 else f'yaxis{i}'
    yanchor = 'y' if i == 1 else f'y{i}'
    xanchor = 'x' if i == 1 else f'x{i}'
    common = dict(showline=True, linecolor=AX, linewidth=0.8, mirror='ticks', ticks='inside',
                  ticklen=3, tickwidth=0.8, tickcolor=AX, showgrid=False, zeroline=False,
                  tickfont=dict(family=FONT, size=7.4, color=AX))
    layout[xs] = dict(common, domain=[fx(l), fx(r)], range=p['xr'], tickvals=p['xt'],
                      anchor=yanchor)
    layout[ys] = dict(common, domain=[fy(b), fy(t)], range=p['yr'], tickvals=p['yt'],
                      anchor=xanchor)
    cx = (l + r) / 2
    ttl_y = t - 9 if i != 6 else t - 6
    annotations.append(dict(text=f"<b>{titles[k]}</b>", x=fx(cx), y=fy(ttl_y), xref='paper', yref='paper',
                            showarrow=False, xanchor='center', yanchor='middle',
                            font=dict(family=FONT, size=9.5, color='black')))
    annotations.append(dict(text=xlabel, x=fx(cx), y=fy(b + 16), xref='paper', yref='paper',
                            showarrow=False, xanchor='center', yanchor='middle',
                            font=dict(family=FONT, size=9.2, color=AX)))
    annotations.append(dict(text=ylabel, x=fx(l - 21), y=fy((t + b) / 2 - 4), xref='paper', yref='paper',
                            showarrow=False, xanchor='center', yanchor='middle', textangle=-90,
                            font=dict(family=FONT, size=8.0, color=AX)))

# legend boxes (paper-space decoration: frame, sample line, label)
left_legends = [(137, 310, 29, 39), (137, 310, 302, 312), (137, 310, 572, 582)]
for (x0, x1, y0, y1) in left_legends:
    ym = (y0 + y1) / 2
    shapes.append(dict(type='rect', xref='paper', yref='paper', x0=fx(x0), x1=fx(x1), y0=fy(y1), y1=fy(y0),
                       fillcolor='white', line=dict(color=AX, width=0.8)))
    shapes.append(dict(type='line', xref='paper', yref='paper', x0=fx(x0 + 2), x1=fx(x0 + 30), y0=fy(ym), y1=fy(ym),
                       line=dict(color='black', width=1.3, dash='7px,4px')))
    annotations.append(dict(text=orig_label, x=fx(x0 + 31), y=fy(ym), xref='paper', yref='paper',
                            showarrow=False, xanchor='left', yanchor='middle',
                            font=dict(family=FONT, size=6.85, color='black')))
right_legends = [(602, 668, 29, 39), (602, 668, 300, 311), (602, 668, 572, 582)]
for j, (x0, x1, y0, y1) in enumerate(right_legends):
    ym = (y0 + y1) / 2
    fam = "Liberation Serif" if j == 2 else FONT
    shapes.append(dict(type='rect', xref='paper', yref='paper', x0=fx(x0), x1=fx(x1), y0=fy(y1), y1=fy(y0),
                       fillcolor='white', line=dict(color=AX, width=0.8)))
    shapes.append(dict(type='line', xref='paper', yref='paper', x0=fx(x0 + 4), x1=fx(x0 + 25), y0=fy(ym), y1=fy(ym),
                       line=dict(color='black', width=4)))
    annotations.append(dict(text=joint_labels[j], x=fx(x0 + 26), y=fy(ym), xref='paper', yref='paper',
                            showarrow=False, xanchor='left', yanchor='middle',
                            font=dict(family=fam, size=7.6, color='black')))

layout['annotations'] = annotations
layout['shapes'] = shapes

fig.update_layout(**layout)
fig.write_html("out.html")
